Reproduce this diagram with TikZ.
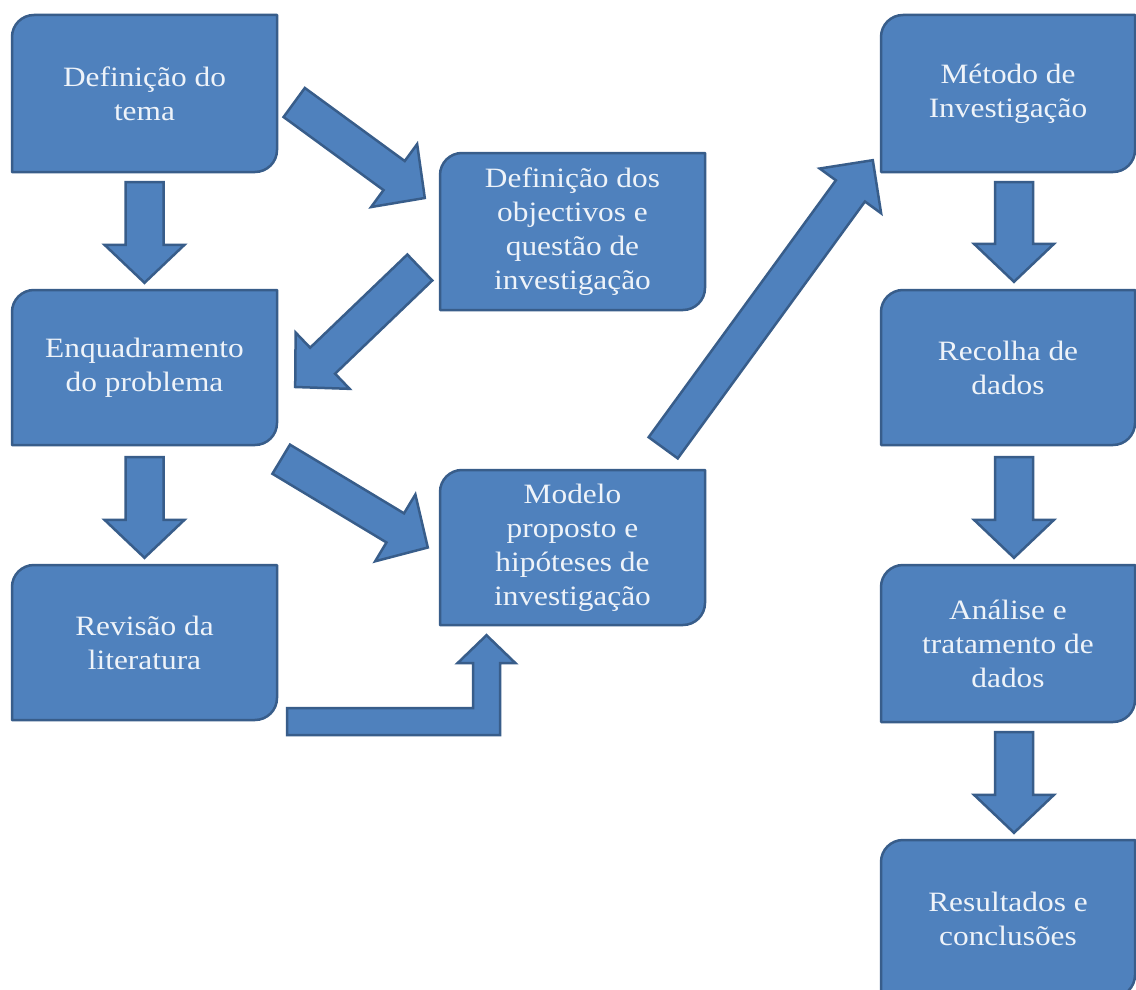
\documentclass[tikz,border=0pt]{standalone}
\usepackage{fontspec}
\newfontfamily\boxfont[FakeStretch=1.12]{Liberation Serif}
\usetikzlibrary{calc}

\definecolor{boxfill}{HTML}{4F81BD}
\definecolor{boxedge}{HTML}{385D8A}
\definecolor{boxink}{HTML}{EEF3F9}

\tikzset{
  boxline/.style={fill=boxfill, draw=boxedge, line width=2.5pt, line join=round},
  boxlabel/.style={inner sep=0pt, align=center, text=boxink,
                   font=\boxfont\fontsize{28}{34}\selectfont},
  barrow/.style={fill=boxfill, draw=boxedge, line width=2.5pt, line join=miter},
}

% corner radius of the boxes
\newcommand\rr{22}

% box with rounded top-left and bottom-right corners: name, x1, y1, x2, y2, text
\newcommand\rdbox[6]{%
  \draw[boxline] ({#2},{#3+\rr}) .. controls ({#2},{#3+0.448*\rr}) and ({#2+0.448*\rr},{#3}) .. ({#2+\rr},{#3})
     -- ({#4},{#3}) -- ({#4},{#5-\rr})
     .. controls ({#4},{#5-0.448*\rr}) and ({#4-0.448*\rr},{#5}) .. ({#4-\rr},{#5})
     -- ({#2},{#5}) -- cycle;
  \pgfmathsetmacro\bw{#4-#2}\pgfmathsetmacro\bh{#5-#3}
  \node[boxlabel, minimum width=\bw pt, minimum height=\bh pt] (#1) at ({(#2+#4)/2},{(#3+#5)/2}) {#6};
}

% straight block arrow: tail, tip, shaft half width, head half width, head length
\newcommand\blockarrow[5]{%
  \coordinate (hb) at ($(#2)!#5pt!(#1)$);
  \draw[barrow] ($(#1)!#3pt!90:(#2)$) -- ($(hb)!#3pt!90:(#2)$) -- ($(hb)!#4pt!90:(#2)$)
     -- (#2) -- ($(hb)!#4pt!-90:(#2)$) -- ($(hb)!#3pt!-90:(#2)$) -- ($(#1)!#3pt!-90:(#2)$) -- cycle;
}

\begin{document}
\begin{tikzpicture}[x=1pt, y=-1pt]
  \useasboundingbox (0,0) rectangle (1136,990);
  \fill[white] (0,0) rectangle (1136,990);
  \clip (0,0) rectangle (1136,990);

  % left column
  \rdbox{b1}{12}{15}{277}{172}{Definição do\\tema}
  \rdbox{b2}{12}{290}{277}{445}{Enquadramento\\do problema}
  \rdbox{b3}{12}{565}{277}{720}{Revisão da\\literatura}
  % middle column
  \rdbox{b4}{440}{153}{705}{310}{Definição dos\\objectivos e\\questão de\\investigação}
  \rdbox{b5}{440}{470}{705}{625}{Modelo\\proposto e\\hipóteses de\\investigação}
  % right column
  \rdbox{b6}{881}{15}{1135}{172}{Método de\\Investigação}
  \rdbox{b7}{881}{290}{1135}{445}{Recolha de\\dados}
  \rdbox{b8}{881}{565}{1135}{722}{Análise e\\tratamento de\\dados}
  \rdbox{b9}{881}{840}{1135}{997}{Resultados e\\conclusões}

  % downward arrows, left column
  \coordinate (l1s) at ($(b1.south)+(0,10)$);   \coordinate (l1e) at ($(b2.north)+(0,-7)$);
  \coordinate (l2s) at ($(b2.south)+(0,12)$);   \coordinate (l2e) at ($(b3.north)+(0,-7)$);
  \blockarrow{l1s}{l1e}{19}{40}{38}
  \blockarrow{l2s}{l2e}{19}{40}{38}

  % downward arrows, right column
  \coordinate (r1s) at ($(b6.south)+(6,10)$);   \coordinate (r1e) at ($(b7.north)+(6,-8)$);
  \coordinate (r2s) at ($(b7.south)+(6,12)$);   \coordinate (r2e) at ($(b8.north)+(6,-7)$);
  \coordinate (r3s) at ($(b8.south)+(6,10)$);   \coordinate (r3e) at ($(b9.north)+(6,-7)$);
  \blockarrow{r1s}{r1e}{19}{40}{38}
  \blockarrow{r2s}{r2e}{19}{40}{38}
  \blockarrow{r3s}{r3e}{19}{40}{38}

  % diagonal arrows
  \coordinate (dAs) at ($(b1.east)+(17,9)$);        \coordinate (dAe) at ($(b4.west)+(-15,-33.5)$);
  \coordinate (dBs) at ($(b4.west)+(-20,36)$);       \coordinate (dBe) at ($(b2.east)+(18,19.5)$);
  \coordinate (dCs) at ($(b2.south east)+(4,14)$);   \coordinate (dCe) at ($(b5.west)+(-12,0)$);
  \coordinate (dDs) at ($(b5.north east)+(-42,-22)$);\coordinate (dDe) at ($(b6.south west)+(-8,-12)$);
  \blockarrow{dAs}{dAe}{18}{39}{38}
  \blockarrow{dBs}{dBe}{18}{39}{38}
  \blockarrow{dCs}{dCe}{17}{39}{38}
  \blockarrow{dDs}{dDe}{18}{38}{38}

  % bent arrow from the literature review up into the model box
  \coordinate (bt) at ($(b3.south east)+(10,1.5)$);
  \coordinate (btip) at ($(b5.south)+(-86,10)$);
  \coordinate (bc) at (bt -| btip);
  \draw[barrow] ($(bt)+(0,-13.5)$) -- ($(bc)+(-13.5,-13.5)$) -- ($(btip)+(-13.5,28)$)
     -- ($(btip)+(-29,28)$) -- (btip) -- ($(btip)+(29,28)$) -- ($(btip)+(13.5,28)$)
     -- ($(bc)+(13.5,13.5)$) -- ($(bt)+(0,13.5)$) -- cycle;
\end{tikzpicture}
\end{document}
